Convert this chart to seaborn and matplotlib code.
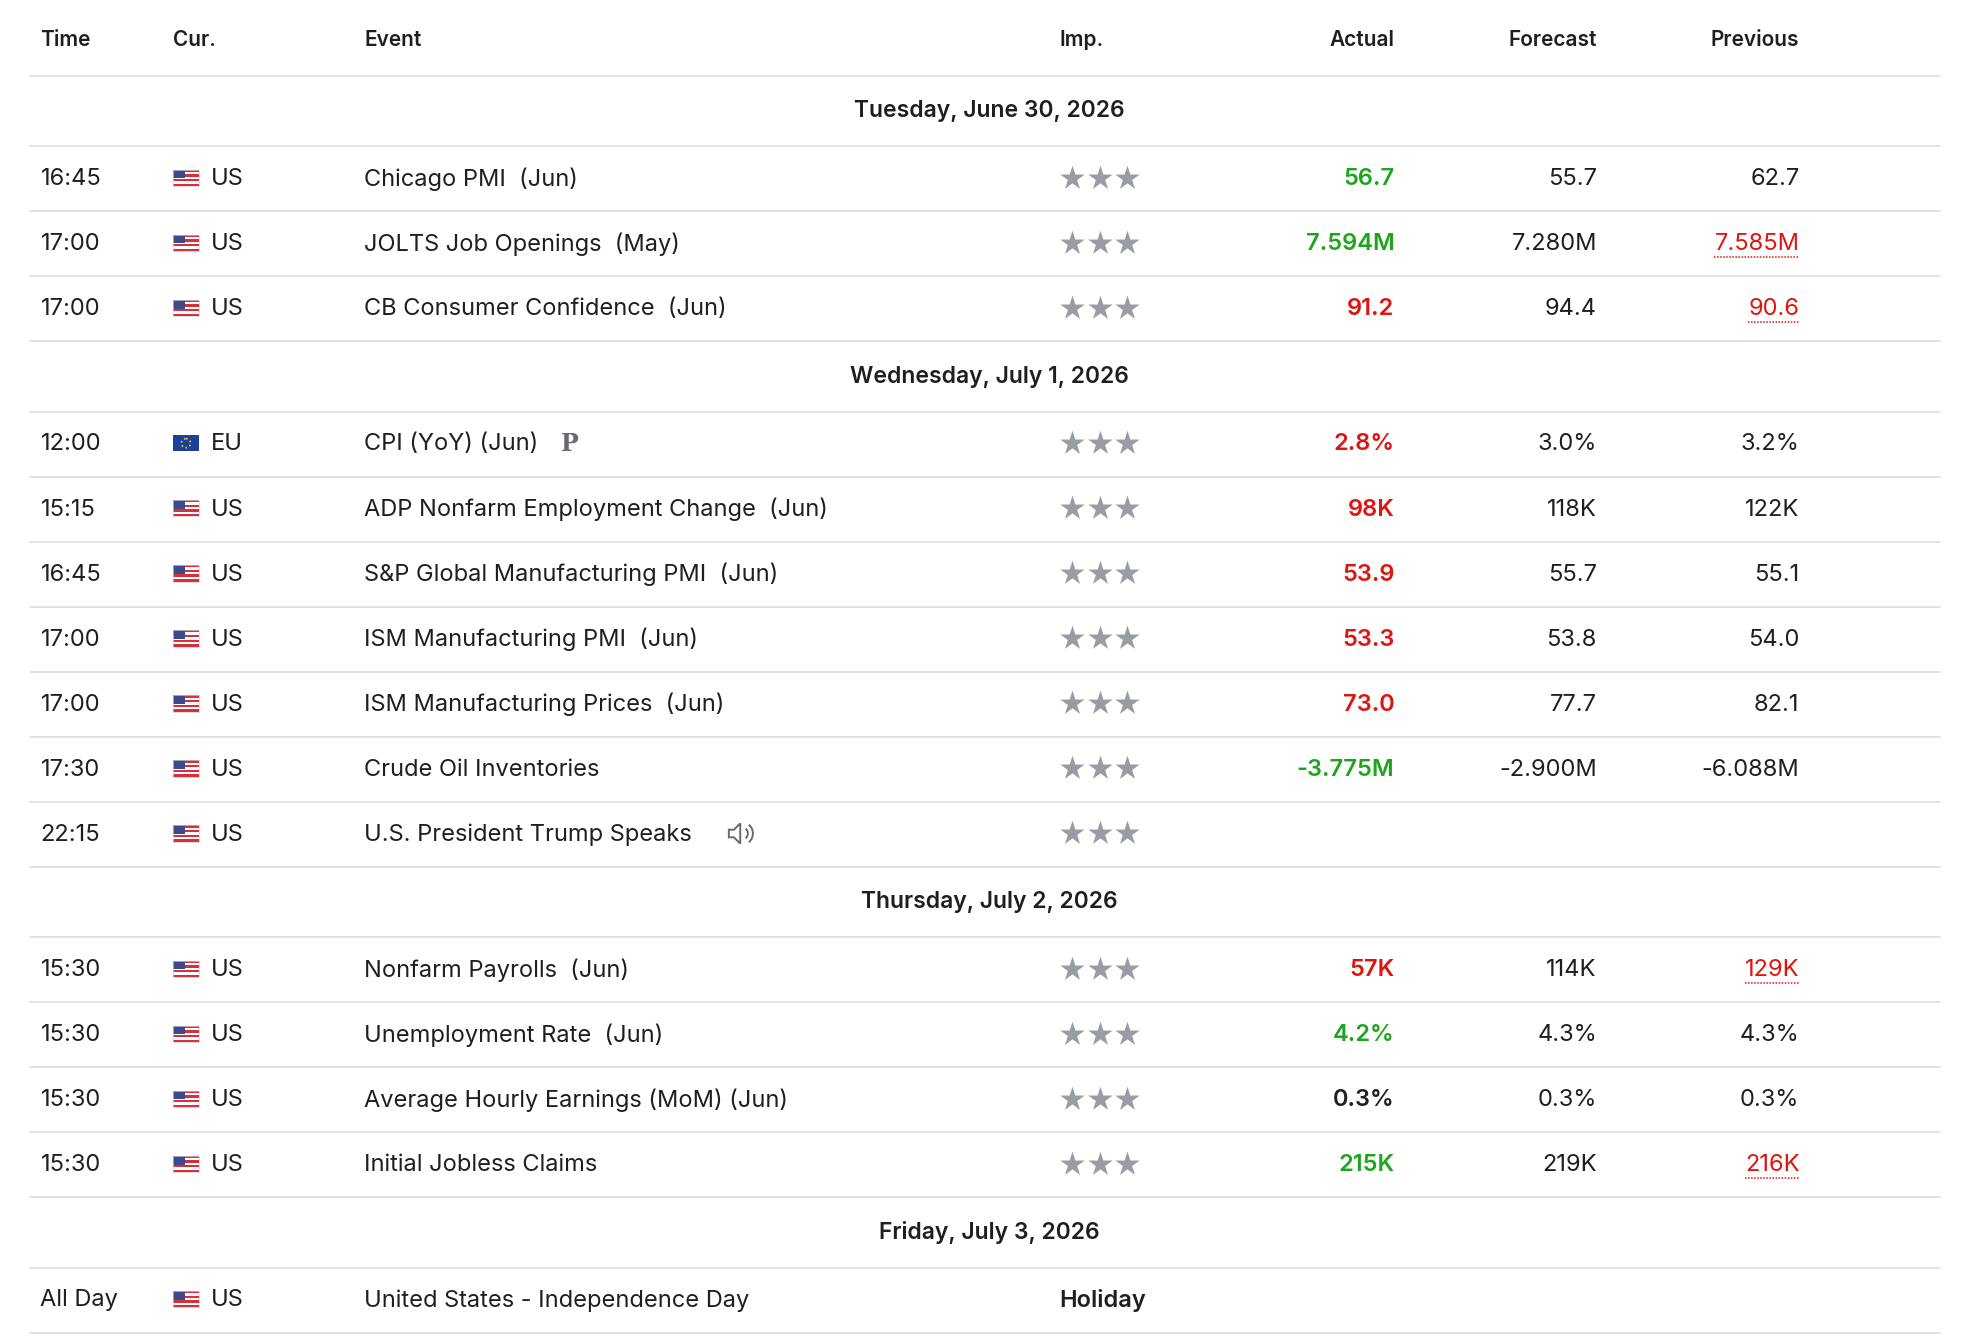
import matplotlib
matplotlib.use("Agg")
import matplotlib.pyplot as plt
import matplotlib.patches as mpatches
import seaborn as sns
import pandas as pd

sns.set_theme(style="white")
plt.rcParams['font.family'] = ['Inter', 'DejaVu Sans']

# data
days = ["Tuesday, June 30, 2026", "Wednesday, July 1, 2026", "Thursday, July 2, 2026", "Friday, July 3, 2026"]
day_index = [0, 0, 0, 1, 1, 1, 1, 1, 1, 1, 2, 2, 2, 2, 3]
times = ["16:45", "17:00", "17:00", "12:00", "15:15", "16:45", "17:00", "17:00", "17:30", "22:15",
         "15:30", "15:30", "15:30", "15:30", "All Day"]
currencies = ["US", "US", "US", "EU", "US", "US", "US", "US", "US", "US", "US", "US", "US", "US", "US"]
events = ["Chicago PMI  (Jun)", "JOLTS Job Openings  (May)", "CB Consumer Confidence  (Jun)",
          "CPI (YoY) (Jun)", "ADP Nonfarm Employment Change  (Jun)", "S&P Global Manufacturing PMI  (Jun)",
          "ISM Manufacturing PMI  (Jun)", "ISM Manufacturing Prices  (Jun)", "Crude Oil Inventories",
          "U.S. President Trump Speaks", "Nonfarm Payrolls  (Jun)", "Unemployment Rate  (Jun)",
          "Average Hourly Earnings (MoM) (Jun)", "Initial Jobless Claims", "United States - Independence Day"]
actual = ["56.7", "7.594M", "91.2", "2.8%", "98K", "53.9", "53.3", "73.0", "-3.775M", "",
          "57K", "4.2%", "0.3%", "215K", ""]
actual_tone = ["g", "g", "r", "r", "r", "r", "r", "r", "g", "", "r", "g", "n", "g", ""]
forecast = ["55.7", "7.280M", "94.4", "3.0%", "118K", "55.7", "53.8", "77.7", "-2.900M", "",
            "114K", "4.3%", "0.3%", "219K", ""]
previous = ["62.7", "7.585M", "90.6", "3.2%", "122K", "55.1", "54.0", "82.1", "-6.088M", "",
            "129K", "4.3%", "0.3%", "216K", ""]
previous_revised = [False, True, True, False, False, False, False, False, False, False,
                    True, False, False, True, False]

GREEN, RED, TXT, GREY, LINE = "#1ea51e", "#e0140f", "#1f1f1f", "#9a9ca3", "#dcdde0"
tone_col = {"g": GREEN, "r": RED, "n": TXT, "": TXT}

W, H = 1560, 1062
fig = plt.figure(figsize=(19.74, 13.44), dpi=100)
ax = fig.add_axes([0, 0, 1, 1])
ax.set_xlim(0, W)
ax.set_ylim(H, 0)
ax.axis("off")

FS = 17
HFS = 16.5
X0, X1 = 24, 1533

def hline(y):
    ax.plot([X0, X1], [y, y], color=LINE, lw=1.2)

# header
for x, s, ha in [(32, "Time", "left"), (137, "Cur.", "left"), (288, "Event", "left"),
                 (837, "Imp.", "left"), (1102, "Actual", "right"), (1262, "Forecast", "right"),
                 (1422, "Previous", "right")]:
    ax.text(x, 32, s, ha=ha, va="center", fontsize=15, fontweight="semibold", color=TXT)
hline(60)

def us_flag(x, y):
    w, h = 20, 13
    for k in range(7):
        ax.add_patch(mpatches.Rectangle((x, y - h / 2 + k * h / 7), w, h / 7,
                                        color="#d6313b" if k % 2 == 0 else "white", lw=0))
    ax.add_patch(mpatches.Rectangle((x, y - h / 2), 9, 7, color="#3c4a8c", lw=0))
    ax.add_patch(mpatches.Rectangle((x, y - h / 2), w, h, fill=False, ec="#cccccc", lw=0.5))

def eu_flag(x, y):
    ax.add_patch(mpatches.Rectangle((x, y - 6.5), 20, 13, color="#1f3f9c", lw=0))
    ax.add_patch(mpatches.Circle((x + 10, y), 3.6, fill=False, ec="#f2d300", lw=1.2, ls=":"))

def speaker(x, y):
    c = "#666a73"
    ax.add_patch(mpatches.Polygon([(x, y - 3), (x + 4, y - 3), (x + 9, y - 8), (x + 9, y + 8),
                                   (x + 4, y + 3), (x, y + 3)], closed=True, fill=False, ec=c, lw=1.4))
    for r in (5, 9):
        ax.add_patch(mpatches.Arc((x + 10, y), 2 * r, 2 * r, theta1=-50, theta2=50, ec=c, lw=1.4))

stars = []
y = 60
prev_day = -1
for i in range(len(events)):
    d = day_index[i]
    if d != prev_day:
        ax.text(782, y + 28, days[d], ha="center", va="center", fontsize=HFS,
                fontweight="semibold", color=TXT)
        y += 55.5
        hline(y)
        prev_day = d
    yc = y + 26
    ax.text(32, yc, times[i], ha="left", va="center", fontsize=FS, color=TXT)
    (eu_flag if currencies[i] == "EU" else us_flag)(137, yc - 1)
    ax.text(167, yc, currencies[i], ha="left", va="center", fontsize=FS, color=TXT)
    ax.text(288, yc, events[i], ha="left", va="center", fontsize=FS, color=TXT)
    if events[i].startswith("CPI"):
        ax.text(443, yc, "P", ha="left", va="center", fontsize=FS, fontweight="bold",
                family="DejaVu Serif", color="#666a73")
    if "Speaks" in events[i]:
        speaker(576, yc - 1)
    if times[i] == "All Day":
        ax.text(837, yc, "Holiday", ha="left", va="center", fontsize=FS, fontweight="semibold", color=TXT)
    else:
        for sx in (847, 869, 891):
            stars.append((sx, yc - 1))
    ax.text(1102, yc, actual[i], ha="right", va="center", fontsize=FS, fontweight="semibold",
            color=tone_col[actual_tone[i]])
    ax.text(1262, yc, forecast[i], ha="right", va="center", fontsize=FS, color=TXT)
    pc = RED if previous_revised[i] else TXT
    t = ax.text(1422, yc, previous[i], ha="right", va="center", fontsize=FS, color=pc)
    if previous_revised[i]:
        fig.canvas.draw()
        bb = t.get_window_extent().transformed(ax.transData.inverted())
        ax.plot([bb.x0, bb.x1], [yc + 10, yc + 10], color=RED, lw=1.1, ls=(0, (1, 1)))
    y += 51.4
    hline(y)

star_df = pd.DataFrame(stars, columns=["x", "y"])
sns.scatterplot(data=star_df, x="x", y="y", marker="*", s=340, color=GREY, edgecolor=GREY,
                linewidth=0, ax=ax, legend=False)
ax.set_xlim(0, W)
ax.set_ylim(H, 0)
ax.axis("off")

fig.savefig("out.png", dpi=100, facecolor="white")
